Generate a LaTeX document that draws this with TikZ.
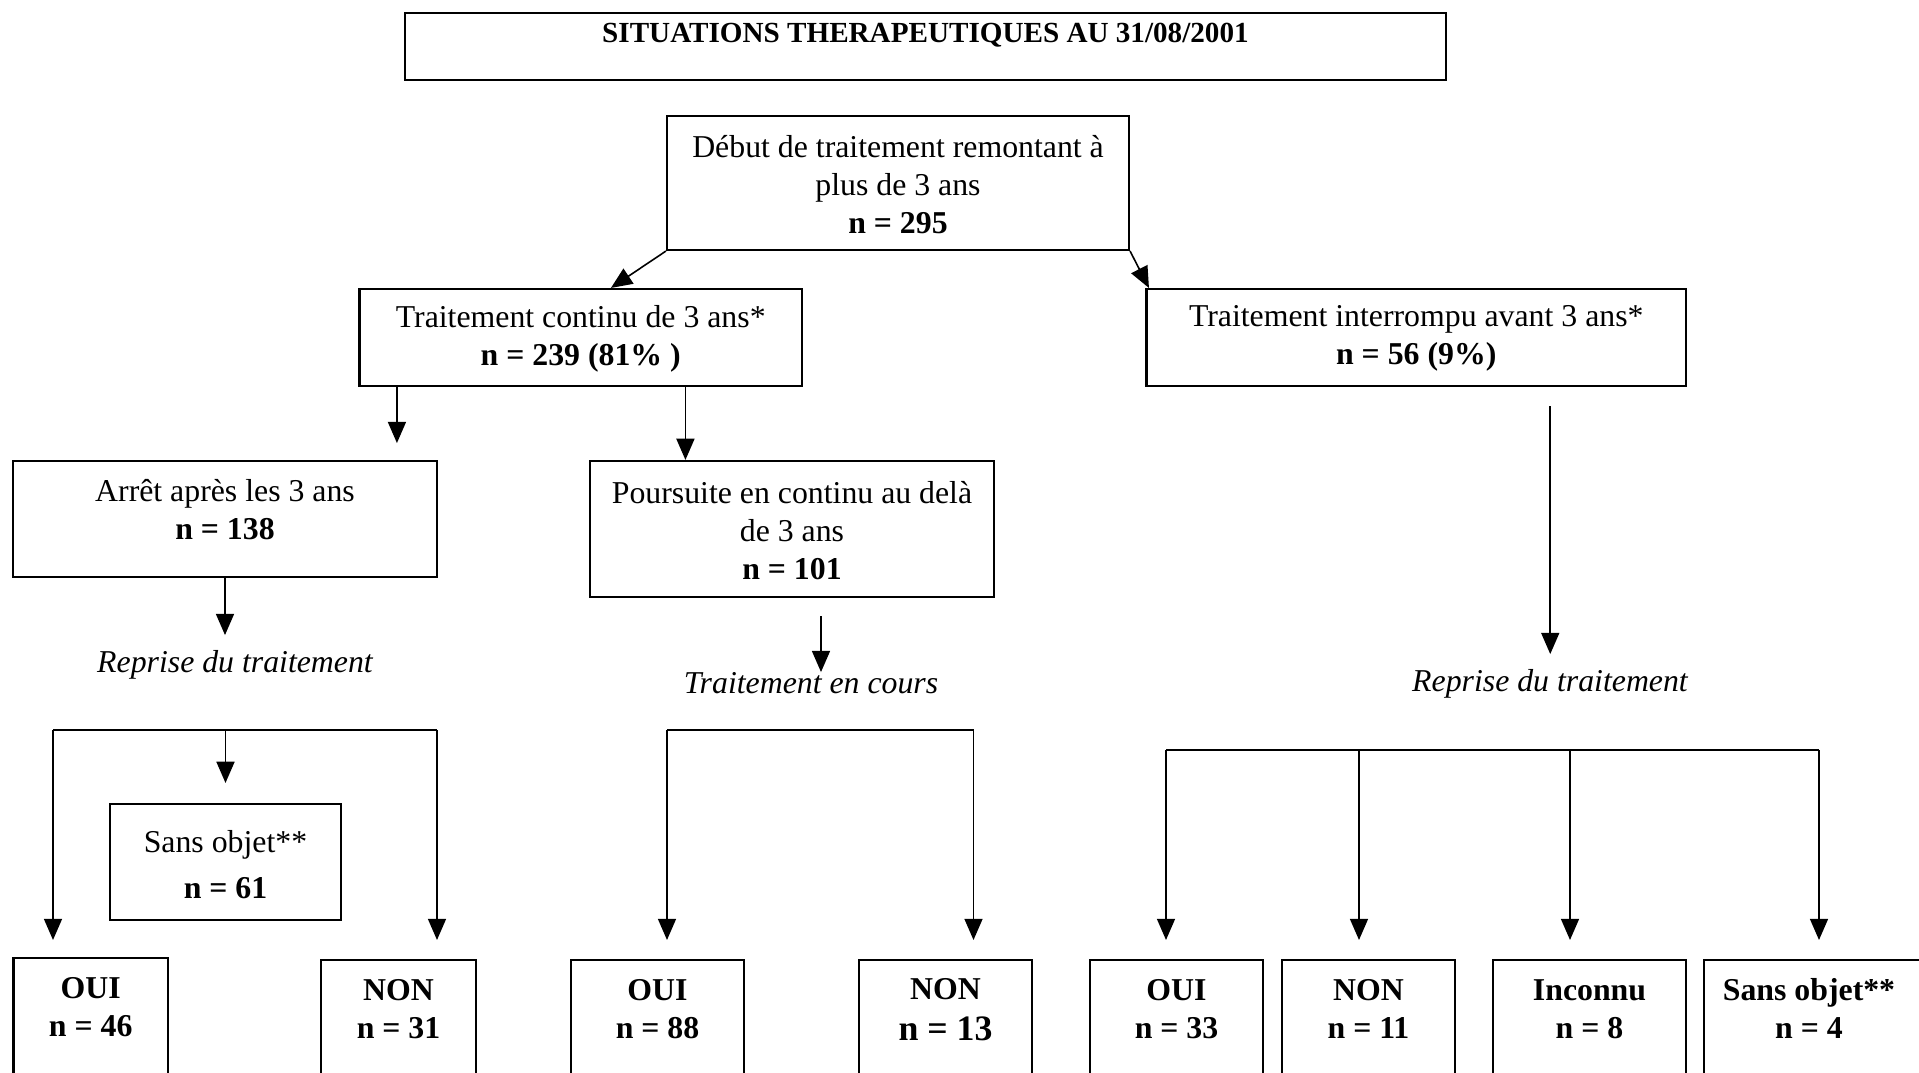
\documentclass[tikz,border=0pt]{standalone}
\usepackage{fontspec}
\setmainfont{Liberation Serif}
\usetikzlibrary{arrows.meta,calc,fit}
\newlength{\pxu}
\setlength{\pxu}{0.37736pt}
\tikzset{
  box/.style={draw, line width=0.8pt, inner sep=0pt},
  body/.style={font=\fontsize{12}{14.34}\selectfont, align=center, inner sep=0pt},
  btxt/.style={font=\bfseries\fontsize{12}{14.34}\selectfont, align=center, inner sep=0pt},
  ttl/.style={font=\bfseries\fontsize{11}{13}\selectfont, inner sep=0pt},
  itx/.style={font=\itshape\fontsize{12}{14.34}\selectfont, inner sep=0pt},
  ln/.style={line width=0.6pt},
  arr/.style={line width=0.6pt, -{Triangle[length=8pt,width=6.8pt]}}
}
\begin{document}
\begin{tikzpicture}[x=\pxu, y=-\pxu]
\useasboundingbox (0,0) rectangle (1919,1073);
\fill[white] (0,0) rectangle (1919,1073);
\clip (0,0) rectangle (1919,1073);

% title
\node[box, line width=1pt, fit={(405,13) (1446,80)}] (title) {};
\node[ttl] (titletxt) at (925.5,35.5) {SITUATIONS THERAPEUTIQUES AU 31/08/2001};

% main boxes
\node[box, fit={(667,116) (1129,250)}] (debut) {};
\node[body] (debuttxt) at ($(debut.center)+(0,1.5)$) {Début de traitement remontant à\\plus de 3 ans\\\textbf{n = 295}};
\node[box, fit={(359.5,289) (802,386)}] (continu) {};
\node[body] (continutxt) at ($(continu.center)+(0,1)$) {Traitement continu de 3 ans*\\\textbf{n = 239 (81\% )}};
\node[box, fit={(1146.5,289) (1686,386)}] (interr) {};
\node[body] (interrtxt) at ($(interr.center)+(0,1)$) {Traitement interrompu avant 3 ans*\\\textbf{n = 56 (9\%)}};
\node[box, fit={(13,461) (437,577)}] (arret) {};
\node[body] (arrettxt) at (225,510) {Arrêt après les 3 ans\\\textbf{n = 138}};
\node[box, fit={(590,461) (994,597)}] (pours) {};
\node[body] (pourstxt) at ($(pours.center)+(0,2)$) {Poursuite en continu au delà\\de 3 ans\\\textbf{n = 101}};
\node[box, fit={(110,804) (341,920)}] (sans1) {};
\node[body] (sans1txt) at ($(sans1.center)+(0,3)$) {Sans objet**\\[3pt]\textbf{n = 61}};

% bottom boxes
\node[box, fit={(13.5,958) (168,1100)}] (oui1) {};
\node[box, fit={(321,960) (476,1100)}] (non1) {};
\node[box, fit={(571,960) (744,1100)}] (oui2) {};
\node[box, fit={(859,960) (1032,1100)}] (non2) {};
\node[box, fit={(1090,960) (1263,1100)}] (oui3) {};
\node[box, fit={(1282,960) (1455,1100)}] (non3) {};
\node[box, fit={(1493,960) (1686,1100)}] (inc) {};
\node[box, fit={(1704,960) (1935,1100)}] (sans2) {};

\node[btxt] (toui1) at ($(oui1.north)+(0,50)$) {OUI\\n = 46};
\node[btxt] (tnon1) at ($(non1.north)+(0,50)$) {NON\\n = 31};
\node[btxt] (toui2) at ($(oui2.north)+(0,50)$) {OUI\\n = 88};
\node[btxt] (tnon2) at ($(non2.north)+(0,51)$) {NON\\[1pt]{\fontsize{13.5}{15}\selectfont n = 13}};
\node[btxt] (toui3) at ($(oui3.north)+(0,50)$) {OUI\\n = 33};
\node[btxt] (tnon3) at ($(non3.north)+(0,50)$) {NON\\n = 11};
\node[btxt] (tinc) at ($(inc.north)+(0,50)$) {Inconnu\\n = 8};
\node[btxt] (tsans2) at (1809,1008) {Sans objet**\\n = 4};

% top connectors
\draw[arr] (debut.south west) -- ($(continu.north west)+(252.5,0)$);
\draw[arr] (debut.south east) -- ($(interr.north west)+(3.5,0)$);

\coordinate (c1) at ($(continu.south west)+(38.5,0)$);
\draw[arr] (c1) -- ++(0,56);
\coordinate (c2) at ($(continu.south west)+(327,0)$);
\draw[arr] (c2) -- (c2 |- pours.north);

% Arret branch
\draw[arr] (arret.south) -- ++(0,57);
\node[itx] (rep1) at (235,665) {Reprise du traitement};

% Poursuite branch
\coordinate (p1) at ($(pours.south)+(29,18)$);
\draw[arr] (p1) -- ++(0,56);
\node[itx] (cours) at (811,683) {Traitement en cours};

% Interrompu branch
\coordinate (i1) at ($(interr.south)+(134,19)$);
\draw[arr] (i1) -- ++(0,248);
\node[itx] (rep2) at (1550,684) {Reprise du traitement};

% brackets
\coordinate (tip) at (0,940);
\coordinate (bl1) at (53,730);
\coordinate (br1) at (437,730);
\coordinate (bm1) at (sans1.north |- bl1);
\draw[ln] (bl1) -- (br1);
\draw[arr] (bl1) -- (bl1 |- tip);
\draw[arr] (br1) -- (br1 |- tip);
\draw[arr] (bm1) -- ($(sans1.north)+(0,-20)$);

\coordinate (bl2) at (667,730);
\coordinate (br2) at (973.5,730);
\draw[ln] (bl2) -- (br2);
\draw[arr] (bl2) -- (bl2 |- tip);
\draw[arr] (br2) -- (br2 |- tip);

\coordinate (r1) at (1166,750);
\coordinate (r2) at (1359,750);
\coordinate (r3) at (1570,750);
\coordinate (r4) at (1819,750);
\draw[ln] (r1) -- (r4);
\draw[arr] (r1) -- (r1 |- tip);
\draw[arr] (r2) -- (r2 |- tip);
\draw[arr] (r3) -- (r3 |- tip);
\draw[arr] (r4) -- (r4 |- tip);
\end{tikzpicture}
\end{document}
